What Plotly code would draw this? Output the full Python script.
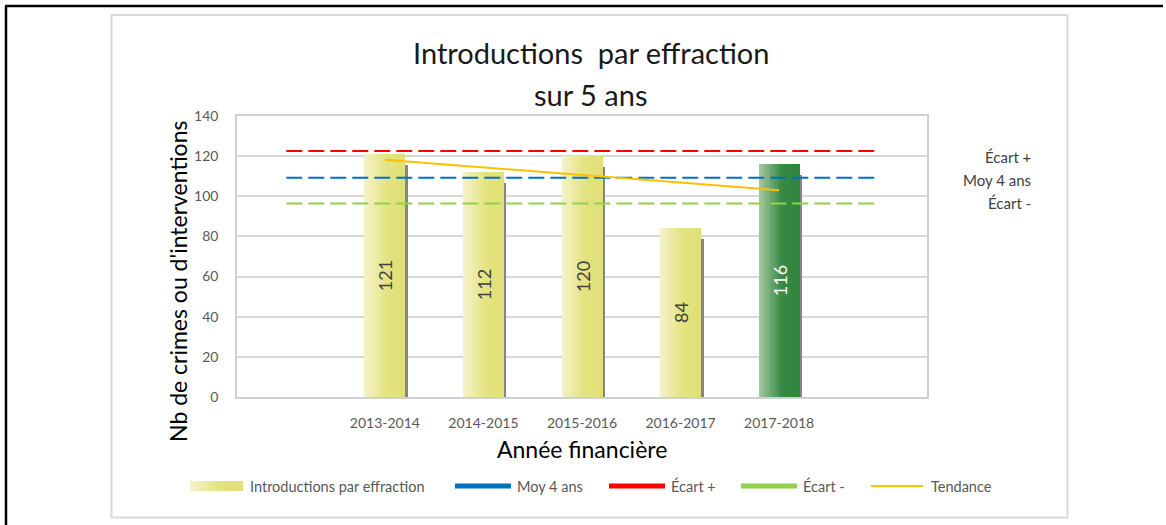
import plotly.graph_objects as go

# data
categories = ["2013-2014", "2014-2015", "2015-2016", "2016-2017", "2017-2018"]
cat_pos = [1, 2, 3, 4, 5]           # empty slots at 0 and 6 like the Excel chart
line_pos = [0, 1, 2, 3, 4, 5, 6]
introductions = [121, 112, 120, 84, 116]
tendance = [118.2, 114.4, 110.6, 106.8, 103.0]
moy_4_ans = 109.25
ecart_plus = 122.6
ecart_moins = 96.4
y_ticks = [0, 20, 40, 60, 80, 100, 120, 140]

W, H = 1166, 525
PL, PR, PT, PB = 237, 927, 116, 397   # plot area in pixels
FONT = "Lato"


def fx(px):
    return (px - PL) / (PR - PL)


def fy(py):
    return (PB - py) / (PB - PT)


def lerp_color(stops, t):
    for (t0, c0), (t1, c1) in zip(stops, stops[1:]):
        if t <= t1:
            k = (t - t0) / (t1 - t0)
            rgb = [round(a + (b - a) * k) for a, b in zip(c0, c1)]
            return "rgb(%d,%d,%d)" % tuple(rgb)
    return "rgb(%d,%d,%d)" % stops[-1][1]


yellow = [(0.0, (245, 243, 204)), (0.55, (227, 227, 128)), (1.0, (224, 224, 118))]
green = [(0.0, (170, 202, 166)), (0.55, (56, 139, 68)), (1.0, (47, 132, 60))]
grads = [yellow, yellow, yellow, yellow, green]

bar_w = 0.416
n_strips = 16

fig = go.Figure()

# bar shadow
fig.add_trace(go.Bar(x=cat_pos, y=[v - 5.3 for v in introductions], width=bar_w,
                     offset=-bar_w / 2 + 0.026, marker=dict(color="#858585", line_width=0),
                     hoverinfo="skip"))

# gradient bars, built from overlapping strips
for i in range(n_strips):
    t = (i + 0.5) / n_strips
    fig.add_trace(go.Bar(x=cat_pos, y=introductions,
                         width=bar_w - i * bar_w / n_strips,
                         offset=-bar_w / 2 + i * bar_w / n_strips,
                         marker=dict(color=[lerp_color(g, t) for g in grads], line_width=0),
                         hoverinfo="skip"))

# value labels
fig.add_trace(go.Bar(x=cat_pos, y=introductions, width=bar_w, offset=-bar_w / 2,
                     marker=dict(color="rgba(0,0,0,0)", line_width=0),
                     text=[str(v) for v in introductions], textposition="inside",
                     insidetextanchor="middle", textangle=-90, constraintext="none",
                     textfont=dict(family=FONT, size=18,
                                   color=["#404040"] * 4 + ["#ffffff"]),
                     name="Introductions par effraction"))

# reference lines
for val, col in [(ecart_plus, "#ff0000"), (moy_4_ans, "#0070c0"), (ecart_moins, "#92d050")]:
    fig.add_trace(go.Scatter(x=line_pos, y=[val] * len(line_pos), mode="lines",
                             line=dict(color=col, width=2, dash="16px,6px"),
                             hoverinfo="skip"))

fig.add_trace(go.Scatter(x=cat_pos, y=tendance, mode="lines",
                         line=dict(color="#ffc000", width=2), name="Tendance"))


def note(txt, px, py, size, color, xanchor="center", angle=0):
    return dict(text=txt, x=fx(px), y=fy(py), xref="paper", yref="paper",
                xanchor=xanchor, yanchor="middle", textangle=angle, showarrow=False,
                font=dict(family=FONT, size=size, color=color))


ann = [
    note("Introductions\u00a0 par effraction", 591, 53, 29, "#1a1a1a"),
    note("sur 5 ans", 591, 94, 29, "#1a1a1a"),
    note("Nb de crimes ou d'interventions", 178, 282, 23, "#000000", angle=-90),
    note("Année financière", 582, 449, 23, "#000000"),
]
# right side labels
for txt, py in [("Écart +", 157), ("Moy 4 ans", 180), ("Écart -", 203)]:
    ann.append(note(txt, 1033, py, 15, "#404040", xanchor="right"))

shapes = []
# frames
shapes.append(dict(type="rect", xref="paper", yref="paper", x0=fx(111.5), x1=fx(1067.5),
                   y0=fy(15), y1=fy(517.5), line=dict(color="#d9d9d9", width=2)))
shapes.append(dict(type="line", xref="paper", yref="paper", x0=fx(5), x1=fx(1163),
                   y0=fy(6), y1=fy(6), line=dict(color="#000000", width=2.5)))
shapes.append(dict(type="line", xref="paper", yref="paper", x0=fx(6), x1=fx(6),
                   y0=fy(6), y1=fy(525), line=dict(color="#000000", width=2.5)))

# custom legend
leg_y = 486
sw_l, sw_r = 190, 243
for i in range(12):
    t = (i + 0.5) / 12
    x0 = sw_l + i * (sw_r - sw_l) / 12
    shapes.append(dict(type="rect", xref="paper", yref="paper", x0=fx(x0), x1=fx(sw_r),
                       y0=fy(leg_y - 5), y1=fy(leg_y + 5), fillcolor=lerp_color(yellow, t),
                       line_width=0))
legend_items = [
    ("Introductions par effraction", None, None, 248),
    ("Moy 4 ans", "#0070c0", (455, 511), 515),
    ("Écart +", "#ff0000", (609, 665), 669),
    ("Écart -", "#92d050", (741, 797), 801),
    ("Tendance", "#ffc000", (871, 923), 929),
]
for txt, col, seg, tx in legend_items:
    if seg:
        shapes.append(dict(type="line", xref="paper", yref="paper", x0=fx(seg[0]),
                           x1=fx(seg[1]), y0=fy(leg_y), y1=fy(leg_y),
                           line=dict(color=col, width=2 if txt == "Tendance" else 5)))
    ann.append(note(txt, tx, leg_y, 14.5, "#595959", xanchor="left"))

fig.update_layout(
    width=W, height=H, autosize=False,
    margin=dict(l=PL, r=W - PR, t=PT, b=H - PB),
    paper_bgcolor="white", plot_bgcolor="white",
    barmode="overlay", bargap=0, showlegend=False,
    annotations=ann, shapes=shapes,
    xaxis=dict(range=[-0.5, 6.5], tickvals=cat_pos, ticktext=categories,
               showgrid=False, zeroline=False, showline=True, mirror=True,
               linecolor="#d0d0d0", linewidth=1.5, ticks="", ticklabelstandoff=12,
               tickfont=dict(family=FONT, size=14, color="#595959"), fixedrange=True),
    yaxis=dict(range=[0, 140], tickvals=y_ticks, showgrid=True, gridcolor="#d9d9d9",
               gridwidth=1.5, zeroline=False, showline=True, mirror=True,
               linecolor="#d0d0d0", linewidth=1.5, ticks="", ticklabelstandoff=14,
               tickfont=dict(family=FONT, size=14, color="#595959"), fixedrange=True),
)

# drop the browser's default body margin so the figure sits at the page corner
fig.write_html("out.html", config={"displayModeBar": False},
               post_script="document.body.style.margin='0';")
